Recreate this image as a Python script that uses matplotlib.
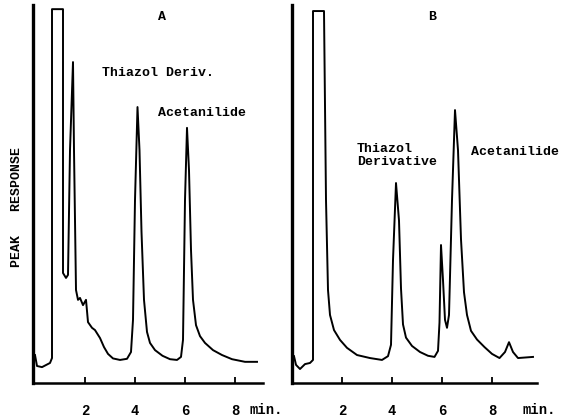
import numpy as np
import matplotlib
matplotlib.use("Agg")
import matplotlib.pyplot as plt

# chromatogram A (time in min, response in % of full scale)
time_a = [0.0, 0.08, 0.28, 0.6, 0.68, 0.68, 1.12, 1.12, 1.24, 1.32, 1.4, 1.52, 1.56,
          1.64, 1.72, 1.8, 1.92, 2.04, 2.12, 2.28, 2.4, 2.6, 2.76, 2.92, 3.12, 3.4, 3.68,
          3.84, 3.92, 4.0, 4.1, 4.18, 4.26, 4.36, 4.48, 4.6, 4.8, 5.1, 5.4, 5.68, 5.84,
          5.92, 6.0, 6.08, 6.16, 6.24, 6.32, 6.44, 6.6, 6.8, 7.12, 7.48, 7.88, 8.4, 8.88]
resp_a = [7.4, 4.5, 4.2, 5.3, 6.6, 98.9, 98.9, 29.1, 27.8, 28.6, 61.6, 84.9, 61.6,
          24.6, 22.0, 22.5, 20.6, 22.0, 16.1, 14.6, 14.0, 11.9, 9.5, 7.7, 6.5, 6.1, 6.4,
          8.2, 16.7, 48.4, 73.0, 61.6, 40.0, 22.0, 13.5, 10.6, 8.7, 7.2, 6.3, 6.1, 6.9,
          11.4, 48.4, 67.5, 56.3, 35.2, 22.0, 15.3, 12.4, 10.6, 8.7, 7.4, 6.3, 5.6, 5.6]

# chromatogram B
time_b = [0.08, 0.16, 0.32, 0.52, 0.72, 0.84, 0.84, 1.28, 1.36, 1.44, 1.52, 1.68,
          1.92, 2.2, 2.6, 3.12, 3.6, 3.84, 3.96, 4.04, 4.16, 4.28, 4.36, 4.44, 4.56,
          4.8, 5.12, 5.44, 5.7, 5.84, 5.9, 5.96, 6.04, 6.12, 6.2, 6.28, 6.4, 6.52,
          6.64, 6.76, 6.88, 7.0, 7.16, 7.4, 7.7, 8.0, 8.3, 8.52, 8.68, 8.84, 9.04, 9.64]
resp_b = [7.1, 4.8, 3.7, 5.0, 5.3, 6.1, 98.4, 98.4, 48.4, 24.6, 18.0, 14.0,
          11.4, 9.3, 7.4, 6.6, 6.1, 7.1, 10.1, 32.5, 52.9, 43.0, 25.0, 15.5, 12.0,
          9.8, 8.2, 7.2, 6.9, 8.5, 16.0, 36.5, 27.2, 16.7, 14.6, 18.0, 48.4, 72.2,
          61.6, 38.0, 24.0, 18.0, 13.8, 11.5, 9.5, 7.7, 6.6, 8.2, 10.8, 8.2, 6.6, 6.9]

tick_values = [2, 4, 6, 8]
tick_labels = ["2", "4", "6", "8"]

FONT = "Liberation Mono"
W, H = 574, 419


def px_axes(fig, left, right, bottom, top):
    # pixel box -> figure fraction
    return fig.add_axes([left / W, 1 - bottom / H, (right - left) / W, (bottom - top) / H])


def style_axes(ax, xmin, xmax):
    ax.set_xlim(xmin, xmax)
    ax.set_ylim(0, 100)
    for side in ["top", "right"]:
        ax.spines[side].set_visible(False)
    ax.spines["left"].set_linewidth(2.4)
    ax.spines["bottom"].set_linewidth(1.8)
    ax.set_yticks([])
    ax.set_xticks(tick_values)
    ax.set_xticklabels(tick_labels, fontfamily=FONT, fontweight="bold", fontsize=10)
    ax.tick_params(axis="x", direction="in", length=4, width=1.3, pad=15)
    ax.patch.set_visible(False)


def main():
    fig = plt.figure(figsize=(W / 100, H / 100), dpi=100)

    ax_a = px_axes(fig, 33, 263, 383, 5)
    style_axes(ax_a, -0.08, 9.12)
    ax_a.plot(time_a, resp_a, color="black", lw=1.4, clip_on=False)
    ax_a.text(5.08, 96.8, "A", fontfamily=FONT, fontweight="bold", fontsize=9.5, ha="center", va="center")
    ax_a.text(2.68, 82.0, "Thiazol Deriv.", fontfamily=FONT, fontweight="bold", fontsize=9.5, va="center")
    ax_a.text(4.92, 71.4, "Acetanilide", fontfamily=FONT, fontweight="bold", fontsize=9.5, va="center")

    ax_b = px_axes(fig, 292, 537, 383, 5)
    style_axes(ax_b, 0.0, 9.8)
    ax_b.plot(time_b, resp_b, color="black", lw=1.4, clip_on=False)
    ax_b.text(5.6, 96.8, "B", fontfamily=FONT, fontweight="bold", fontsize=9.5, ha="center", va="center")
    ax_b.text(2.6, 60.3, "Thiazol\nDerivative", fontfamily=FONT, fontweight="bold", fontsize=9.5,
              va="center", linespacing=1.1)
    ax_b.text(7.16, 61.1, "Acetanilide", fontfamily=FONT, fontweight="bold", fontsize=9.5, va="center")

    # "min." units next to the tick labels
    fig.text(266 / W, 1 - 410 / H, "min.", fontfamily=FONT, fontweight="bold", fontsize=10, ha="center", va="center")
    fig.text(539 / W, 1 - 410 / H, "min.", fontfamily=FONT, fontweight="bold", fontsize=10, ha="center", va="center")

    fig.text(17 / W, 1 - 207 / H, "PEAK   RESPONSE", fontfamily=FONT, fontweight="bold", fontsize=9.5,
             rotation=90, ha="center", va="center")

    fig.savefig("out.png", dpi=100)


if __name__ == "__main__":
    main()
